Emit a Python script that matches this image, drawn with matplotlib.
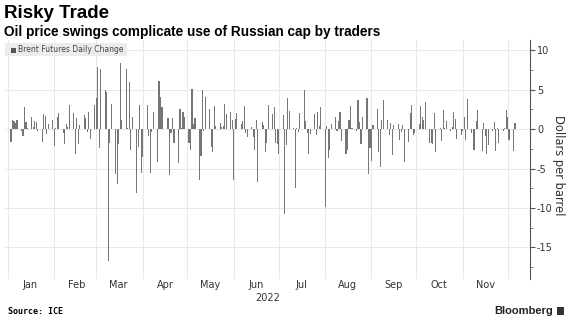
import numpy as np
import pandas as pd
import matplotlib
matplotlib.use("Agg")
import matplotlib.pyplot as plt
from matplotlib.patches import Rectangle

# Brent futures daily change, $/bbl
chg_jan_mar8 = [-1.6, 1.1, 1.0, 0.8, 1.1, -0.3, -0.9, 2.8, 0.9, 0.1,
                1.5, 0.3, 1.0, 0.9, -0.3, -1.6, 1.9, 1.7, -0.6, 0.7,
                1.1, -2.1, 0.2, 1.6, 2.1, -0.5, -1.9, 0.7, 0.3, 3.0,
                2.0, -3.2, 1.4, -1.9, 0.5, 1.8, 1.4, -0.4, 2.2, -1.2,
                3.0, 3.9, 7.9, -2.4, 7.6, 5.0, 4.7]
chg_mar9_may = [-16.7, -1.8, 3.2, -5.7, -7.0, -1.9, 8.4, 1.2, 7.6, 0.2,
                6.0, -2.6, 1.5, -8.1, -2.3, 3.1, -5.5, -3.5, 3.0, -0.9,
                -5.5, -0.4, 2.2, -4.2, 6.1, 4.1, 2.8, 1.4, -5.8, -0.5,
                1.4, -1.7, -4.3, 2.6, 0.2, 2.2, 1.6, -1.7, -2.7, 5.1,
                0.6, 1.4, -6.5, -3.4, 5.0, -0.3]
chg_may_jul = [4.1, 2.6, -2.3, -2.9, 2.9, 0.4, 0.8, 0.3, 0.4, 3.2,
               1.9, 2.2, 1.1, -6.5, 1.3, 2.1, 0.7, 1.0, 2.9, -0.5,
               -1.0, 0.3, -1.0, -2.7, 1.2, -6.7, 0.9, 0.5, -2.9, -1.7,
               3.0, 1.9, 2.8, -1.8, -1.9, -3.2, 1.8, -10.7, -2.0, 3.9,
               2.3, 0.2, -7.5, 0.2, -0.4, 2.0, 5.0, 1.0, -0.5, -3.1]
chg_jul_oct = [-0.6, 1.9, -0.8, 2.2, 0.4, 2.8, -9.9, 0.4, -3.7, -2.7,
               0.7, 1.6, -0.3, 1.0, 2.2, -1.5, -3.1, -2.7, 1.2, 2.9,
               0.2, -0.3, 3.7, 0.9, -1.9, 1.5, 4.0, -5.7, -2.4, -4.0,
               0.5, 2.6, -2.9, -4.8, 1.1, 3.7, 1.1, -0.8, 0.8, -3.3,
               0.5, 0.6, -1.4, -0.4, 0.5, -4.2, -1.6]
chg_oct_dec = [2.1, 3.0, -0.8, -0.5, 0.7, 2.9, 1.6, 1.1, 3.5, -1.7,
               -1.8, -1.9, 2.1, -2.9, 0.2, -1.5, 2.4, 0.2, 1.0, -0.3,
               0.3, 2.2, 1.3, -1.2, -0.8, -0.3, 1.5, -1.4, 3.8, -0.5,
               -2.6, -2.6, 1.0, 2.4, -2.8, 0.8, -0.9, -3.1, -2.0, -0.2,
               0.9, -2.8, 0.1, -1.7, -0.3, 0.1, 2.4, 1.5, -1.4, -2.8,
               0.8]

values = np.array(chg_jan_mar8 + chg_mar9_may + chg_may_jul + chg_jul_oct + chg_oct_dec)
days = pd.bdate_range("2022-01-03", "2022-12-06")
days = days[days != pd.Timestamp("2022-04-15")][:len(values)]

month_starts = pd.date_range("2022-01-01", "2022-12-01", freq="MS")
month_mids = month_starts + pd.Timedelta(days=15)
month_names = ["Jan", "Feb", "Mar", "Apr", "May", "Jun", "Jul", "Aug", "Sep", "Oct", "Nov", ""]

W, H = 570, 327
fig = plt.figure(figsize=(W / 100, H / 100), dpi=100)
ax = fig.add_axes([5 / W, 1 - 279 / H, 525 / W, 239 / H])

ax.bar(days, values, width=0.75, color="#767676", linewidth=0)

ax.set_xlim(pd.Timestamp("2021-12-30"), pd.Timestamp("2022-12-15"))
ax.set_ylim(-19, 11.3)

ax.yaxis.tick_right()
ax.set_yticks([10, 5, 0, -5, -10, -15])
ax.set_yticklabels(["10", "5", "0", "-5", "-10", "-15"])
ax.set_yticks(np.arange(-17.5, 11, 2.5), minor=True)
ax.tick_params(axis="y", which="major", length=3.5, width=0.8, color="#555555",
               labelsize=7, labelcolor="#333333", pad=1.5)
ax.tick_params(axis="y", which="minor", length=2, width=0.6, color="#777777")

ax.set_xticks(month_starts)
ax.set_xticklabels([])
ax.set_xticks(month_mids, minor=True)
ax.set_xticklabels(month_names, minor=True)
ax.tick_params(axis="x", which="both", length=0, labelsize=7, labelcolor="#333333", pad=1)

ax.grid(True, which="major", color="#e8e8e8", linewidth=0.7)
ax.set_axisbelow(True)
for side in ["top", "left", "bottom"]:
    ax.spines[side].set_visible(False)
ax.spines["right"].set_color("#555555")
ax.spines["right"].set_linewidth(0.8)

# axis title, placed by hand to sit close to the tick labels
fig.text(558 / W, 1 - 165 / H, "Dollars per barrel", rotation=270, fontsize=8.3,
         color="#333333", ha="center", va="center")

# legend chip
fig.patches.append(Rectangle((5 / W, 1 - 56 / H), 122 / W, 13 / H, transform=fig.transFigure,
                             facecolor="#ececec", edgecolor="none", zorder=3))
fig.patches.append(Rectangle((11 / W, 1 - 52.5 / H), 4.5 / W, 5 / H, transform=fig.transFigure,
                             facecolor="#555555", edgecolor="none", zorder=4))
fig.text(18 / W, 1 - 50 / H, "Brent Futures Daily Change", fontsize=5.5, color="#444444",
         va="center", ha="left", zorder=5)

fig.text(4 / W, 1 - 13 / H, "Risky Trade", fontsize=13.5, fontweight="bold",
         family="Liberation Sans", va="center", ha="left")
fig.text(4 / W, 1 - 32 / H, "Oil price swings complicate use of Russian cap by traders",
         fontsize=9.8, fontweight="bold", family="Liberation Sans", va="center", ha="left")
fig.text(268 / W, 1 - 298 / H, "2022", fontsize=7, color="#333333", ha="center", va="center")
fig.text(8 / W, 1 - 312 / H, "Source: ICE", fontsize=6, fontweight="bold",
         family="DejaVu Sans Mono", va="center", ha="left")
fig.text(553 / W, 1 - 311 / H, "Bloomberg", fontsize=8, fontweight="bold",
         family="Liberation Sans", va="center", ha="right", color="#222222")
fig.patches.append(Rectangle((557 / W, 1 - 315 / H), 7 / W, 8 / H, transform=fig.transFigure,
                             facecolor="#333333", edgecolor="none"))

fig.savefig("out.png", dpi=100)
